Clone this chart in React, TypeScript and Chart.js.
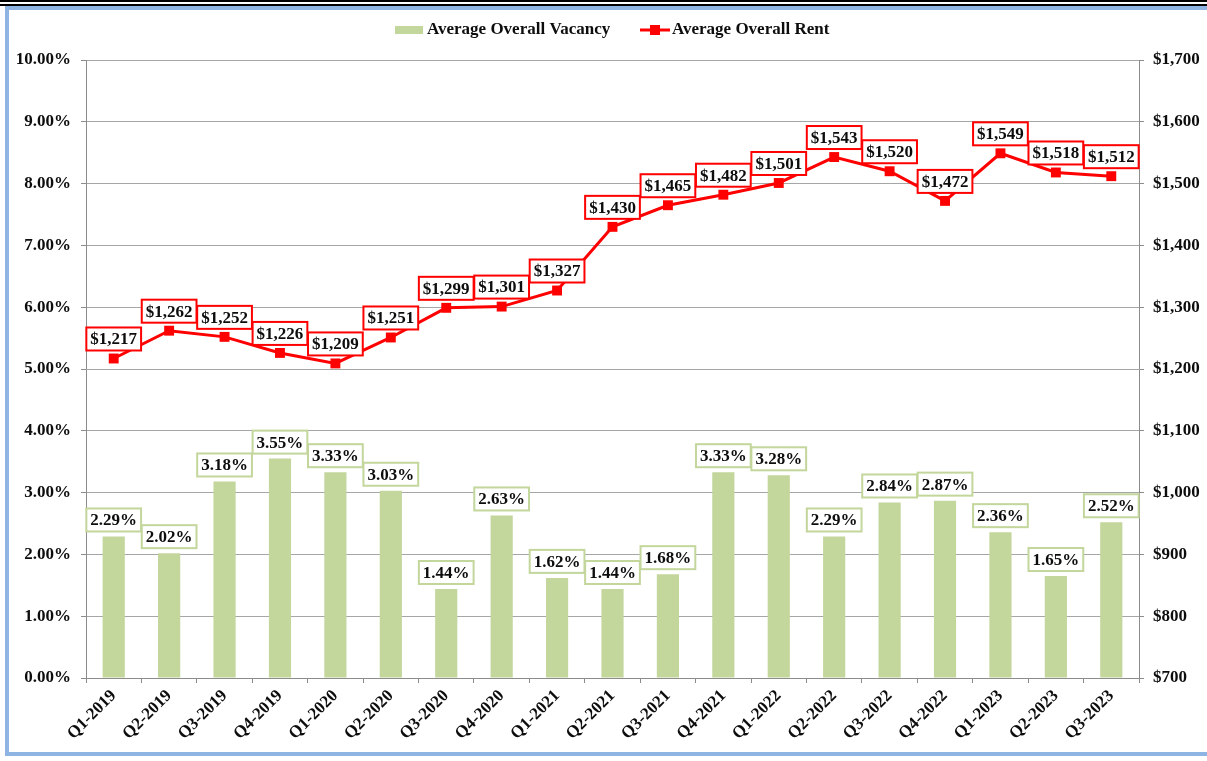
import React, { useEffect, useRef } from "react";
import { Chart, registerables } from "chart.js";

Chart.register(...registerables);

const categories = [
  "Q1-2019", "Q2-2019", "Q3-2019", "Q4-2019",
  "Q1-2020", "Q2-2020", "Q3-2020", "Q4-2020",
  "Q1-2021", "Q2-2021", "Q3-2021", "Q4-2021",
  "Q1-2022", "Q2-2022", "Q3-2022", "Q4-2022",
  "Q1-2023", "Q2-2023", "Q3-2023",
];

const vacancy = [
  2.29, 2.02, 3.18, 3.55, 3.33, 3.03, 1.44, 2.63, 1.62, 1.44,
  1.68, 3.33, 3.28, 2.29, 2.84, 2.87, 2.36, 1.65, 2.52,
];

const rent = [
  1217, 1262, 1252, 1226, 1209, 1251, 1299, 1301, 1327, 1430,
  1465, 1482, 1501, 1543, 1520, 1472, 1549, 1518, 1512,
];

const leftTickLabels = [
  "0.00%", "1.00%", "2.00%", "3.00%", "4.00%", "5.00%",
  "6.00%", "7.00%", "8.00%", "9.00%", "10.00%",
];

const rightTickLabels = [
  "$700", "$800", "$900", "$1,000", "$1,100", "$1,200",
  "$1,300", "$1,400", "$1,500", "$1,600", "$1,700",
];

const vacancyName = "Average Overall Vacancy";
const rentName = "Average Overall Rent";

const FONT_FAMILY = "'Liberation Serif', 'Times New Roman', serif";
const FONT_SIZE = 17;
const GREEN = "#c3d69b";
const RED = "#ff0000";
const TEXT = "#0d0d0d";
const GRID = "#a6a6a6";
const AXIS = "#8c8c8c";

const fmtRent = (v: number) => "$" + v.toLocaleString("en-US");
const fmtVac = (v: number) => v.toFixed(2) + "%";

const labelPlugin = {
  id: "boxLabels",
  afterDatasetsDraw(chart: any) {
    const ctx = chart.ctx;
    ctx.save();
    ctx.font = `bold ${FONT_SIZE}px ${FONT_FAMILY}`;
    ctx.textAlign = "center";
    ctx.textBaseline = "middle";
    const h = 23;
    const draw = (x: number, bottom: number, text: string, border: string) => {
      const w = ctx.measureText(text).width + 8;
      const top = bottom - h;
      ctx.fillStyle = "#ffffff";
      ctx.fillRect(x - w / 2, top, w, h);
      ctx.lineWidth = 2;
      ctx.strokeStyle = border;
      ctx.strokeRect(x - w / 2, top, w, h);
      ctx.fillStyle = TEXT;
      ctx.fillText(text, x, top + h / 2 + 1);
    };
    const barMeta = chart.getDatasetMeta(0);
    barMeta.data.forEach((el: any, i: number) => {
      draw(el.x, el.y - 5, fmtVac(vacancy[i]), GREEN);
    });
    const lineMeta = chart.getDatasetMeta(1);
    lineMeta.data.forEach((el: any, i: number) => {
      draw(el.x, el.y - 8, fmtRent(rent[i]), RED);
    });
    ctx.restore();
  },
};

const legendPlugin = {
  id: "customLegend",
  afterDraw(chart: any) {
    const ctx = chart.ctx;
    ctx.save();
    ctx.font = `bold ${FONT_SIZE}px ${FONT_FAMILY}`;
    ctx.textAlign = "left";
    ctx.textBaseline = "middle";
    const cy = 30;
    ctx.fillStyle = GREEN;
    ctx.fillRect(395, cy - 4, 28, 8);
    ctx.fillStyle = TEXT;
    ctx.fillText(vacancyName, 427, cy);
    ctx.strokeStyle = RED;
    ctx.lineWidth = 3;
    ctx.beginPath();
    ctx.moveTo(640, cy);
    ctx.lineTo(670, cy);
    ctx.stroke();
    ctx.fillStyle = RED;
    ctx.fillRect(650, cy - 5, 10, 10);
    ctx.fillStyle = TEXT;
    ctx.fillText(rentName, 672, cy);
    ctx.restore();
  },
};

export default function App() {
  const ref = useRef<HTMLCanvasElement | null>(null);

  useEffect(() => {
    if (!ref.current) return;
    const tickFont = { family: FONT_FAMILY, size: FONT_SIZE, weight: "bold" };
    const chart = new Chart(ref.current, {
      type: "bar",
      data: {
        labels: categories,
        datasets: [
          {
            type: "bar",
            label: vacancyName,
            data: vacancy,
            backgroundColor: GREEN,
            borderWidth: 0,
            yAxisID: "y",
            order: 2,
            categoryPercentage: 1,
            barPercentage: 0.4,
          },
          {
            type: "line",
            label: rentName,
            data: rent,
            borderColor: RED,
            backgroundColor: RED,
            borderWidth: 3,
            pointStyle: "rect",
            pointRadius: 7,
            pointBorderWidth: 0,
            pointBackgroundColor: RED,
            yAxisID: "y1",
            order: 1,
            tension: 0,
          },
        ],
      },
      options: {
        responsive: false,
        animation: false,
        layout: { padding: { top: 60, left: 0, right: 0, bottom: 0 } },
        plugins: {
          legend: { display: false },
          tooltip: { enabled: false },
        },
        scales: {
          x: {
            offset: true,
            grid: {
              offset: true,
              drawOnChartArea: false,
              drawTicks: true,
              tickLength: 5,
              color: AXIS,
            },
            border: { color: AXIS, width: 1 },
            ticks: {
              color: TEXT,
              font: tickFont,
              minRotation: 45,
              maxRotation: 45,
              autoSkip: false,
              padding: 3,
            },
            afterFit(scale: any) {
              scale.height = 83;
            },
          },
          y: {
            position: "left",
            min: 0,
            max: 10,
            ticks: {
              stepSize: 1,
              color: TEXT,
              font: tickFont,
              padding: 10,
              callback: (_v: any, i: number) => leftTickLabels[i],
            },
            grid: { color: GRID, tickLength: 5, tickColor: AXIS },
            border: { color: AXIS, width: 1 },
            afterFit(scale: any) {
              scale.width = 86;
            },
          },
          y1: {
            position: "right",
            min: 700,
            max: 1700,
            ticks: {
              stepSize: 100,
              color: TEXT,
              font: tickFont,
              padding: 9,
              callback: (_v: any, i: number) => rightTickLabels[i],
            },
            grid: { drawOnChartArea: false, tickLength: 5, color: AXIS },
            border: { color: AXIS, width: 1 },
            afterFit(scale: any) {
              scale.width = 68;
            },
          },
        },
      },
      plugins: [labelPlugin, legendPlugin],
    } as any);
    return () => chart.destroy();
  }, []);

  const blue = "#8db4e2";
  return (
    <div
      style={{
        position: "absolute",
        left: 0,
        top: 0,
        width: 1207,
        height: 761,
        background: "#ffffff",
        overflow: "hidden",
      }}
    >
      <canvas
        ref={ref}
        width={1207}
        height={761}
        style={{ position: "absolute", left: 0, top: 0, width: 1207, height: 761 }}
      />
      <div style={{ position: "absolute", left: 0, top: 0, width: 1207, height: 2, background: "#000" }} />
      <div style={{ position: "absolute", left: 0, top: 4, width: 1207, height: 2, background: "#000" }} />
      <div style={{ position: "absolute", left: 5, top: 6, width: 1202, height: 4, background: blue }} />
      <div style={{ position: "absolute", left: 5, top: 6, width: 4, height: 750, background: blue }} />
      <div style={{ position: "absolute", left: 5, top: 752, width: 1202, height: 4, background: blue }} />
    </div>
  );
}
